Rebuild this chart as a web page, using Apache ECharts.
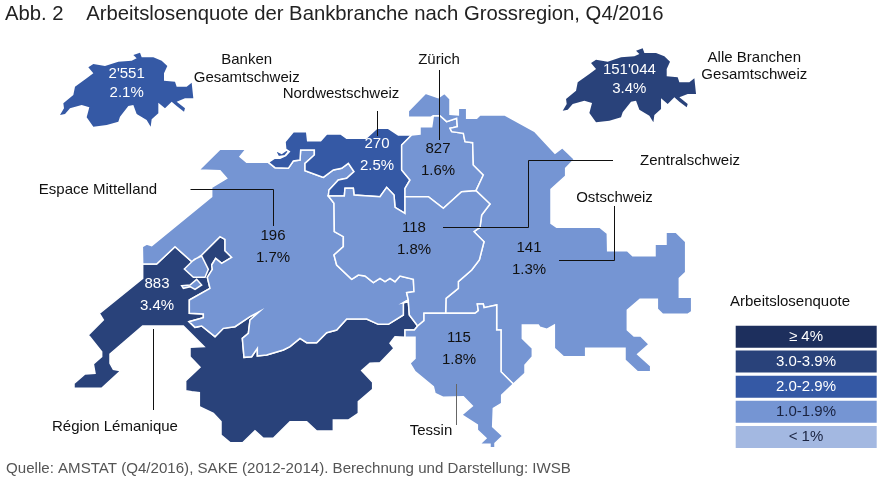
<!DOCTYPE html>
<html><head><meta charset="utf-8">
<style>html,body{margin:0;padding:0;background:#fff}#c{width:886px;height:484px}</style>
<script src="https://cdn.jsdelivr.net/npm/echarts@6/dist/echarts.min.js"></script>
</head><body><div id="c"></div>
<script>
// ---- data ----
const regionNames = ['Région Lémanique','Espace Mittelland','Nordwestschweiz','Zürich','Ostschweiz','Zentralschweiz','Tessin'];
const regionCounts = ['883','196','270','827','141','118','115'];
const regionRates = [3.4,1.7,2.5,1.6,1.3,1.8,1.8];
const totalNames = ['Banken Gesamtschweiz','Alle Branchen Gesamtschweiz'];
const totalCounts = ["2'551","151'044"];
const totalRates = [2.1,3.4];
const legendLabels = ['≥ 4%','3.0-3.9%','2.0-2.9%','1.0-1.9%','< 1%'];
const legendMins = [4,3,2,1,0];
const legendColors = ['#1d2f5d','#29427a','#3559a5','#7595d3','#a3b8e1'];

// ---- outline geometry of the map (traced, in picture units) ----
const tr=(ox,oy,a)=>a.map(p=>[ox+p[0]/3,oy+p[1]/3]);
const Z1=a=>tr(130,100,a),Z2=a=>tr(50,220,a),Z3=a=>tr(400,100,a),Z4=a=>tr(400,280,a),Z8=a=>tr(540,210,a),Z12=a=>tr(255,135,a);
const rev=a=>a.slice().reverse();
const LE_EM=Z2([[278,132],[320,132],[375,80],[425,125],[455,105],[510,50],[525,58],[525,92],[545,112],[515,130],[497,115],[485,135],[487,148],[472,172],[480,205],[418,240],[418,280],[460,282],[460,293],[417,305],[435,322],[455,318],[495,350],[520,325],[555,320],[600,290],[628,275],[600,300],[595,340],[577,355],[582,412],[605,410],[622,385],[622,408],[650,405],[700,390],[720,380],[750,355],[770,368],[800,368],[830,338],[860,330],[890,297],[950,297],[985,313],[1015,313],[1060,285],[1060,248]]);
const LE_ZS=Z2([[1060,248],[1075,245],[1078,285],[1103,318]]);
const LE_TI=Z4([[53,138],[43,150],[15,150],[15,172]]);
const LE_OUT=Z2([[1035,350],[1020,370],[1032,385],[990,428],[960,430],[935,452],[968,487],[968,508],[925,545],[925,580],[895,600],[850,600],[850,633],[800,633],[770,605],[720,605],[670,655],[640,655],[615,632],[578,668],[540,668],[513,645],[513,605],[490,580],[448,560],[448,518],[425,515],[407,512],[407,482],[450,442],[420,410],[420,382],[462,380],[400,318],[278,318],[180,402],[180,430],[190,448],[213,452],[155,505],[72,505],[72,490],[105,462],[135,460],[130,432],[155,410],[155,395],[115,345],[160,300],[148,280],[278,175]]);
const EM_OUT=Z1([[37,440],[50,432],[65,437],[245,290],[245,262],[290,235],[270,212],[207,210],[270,148],[348,148],[330,170],[350,187]]);
const NW_EM=Z1([[595,288],[597,270],[625,240],[650,235],[672,215],[655,190],[635,205],[610,210],[580,232],[560,225],[525,212],[525,190],[553,165],[553,150],[512,150],[510,180],[490,183],[475,205],[435,203],[415,187]]);
const EM_ZS=Z1([[595,288],[612,310],[613,395],[640,410],[640,440],[612,465],[620,495]]).concat(Z2([[905,178],[925,165],[945,168],[970,188],[990,175],[1005,185],[1020,175],[1035,185],[1050,168],[1090,178],[1092,215],[1070,218],[1075,240],[1060,248]]));
const NW_TOP=Z1([[465,125],[490,95],[530,95],[533,122],[572,122],[590,102],[632,102],[650,115],[708,115],[740,85],[775,85],[805,105],[845,105]]);
const NW_ZH=Z1([[845,105],[815,135],[815,210],[840,240],[825,265],[825,290]]);
const NW_ZS=Z1([[825,290],[825,340],[795,322],[792,285],[770,262],[750,290],[672,285],[670,265],[645,265],[643,288],[595,288]]);
const NW_END=Z12([[42,80],[58,70],[75,70],[92,62],[103,50],[92,42]]);
const ZH_TOP=Z3([[35,105],[60,102],[60,80],[95,80],[100,47]]);
const ZH_OS=Z3([[100,47],[120,47],[140,65],[170,55],[172,80],[150,85],[155,95],[190,100],[195,125],[218,128],[220,195],[250,225],[228,272]]);
const ZH_ZS=Z3([[228,272],[185,275],[130,325],[85,290],[15,290]]);
const ZS_OS=Z3([[228,272],[270,312],[245,345],[240,382],[222,395],[252,425],[238,480],[215,510],[175,545],[175,565],[138,595]]).concat(Z4([[137,100]]));
const ZS_TI=Z4([[137,100],[72,100],[72,122],[53,138]]);
const TI_OS=Z4([[137,100],[225,100],[235,92],[232,72],[250,72],[252,83],[290,75],[290,150],[303,150],[303,275],[340,312]]);
const TI_OUT=Z4([[340,312],[305,345],[305,370],[280,385],[278,440],[308,468],[285,490],[285,503],[270,503],[270,493],[240,492],[258,475],[232,450],[232,435],[185,405],[217,378],[190,350],[130,352],[105,340],[100,320],[45,275],[30,250],[45,235],[45,172],[15,172],[15,150],[43,150],[53,138]]);
const OS_OUT=Z3([[100,47],[92,52],[25,52],[25,33],[77,-20],[115,-7],[133,-20],[150,-3],[150,43],[175,45],[175,25],[200,25],[200,55],[230,55],[240,45],[315,45],[405,95],[465,160],[487,143],[523,178],[497,205],[497,228],[453,268],[453,370],[470,382],[600,382],[622,400]])
 .concat(Z8([[203,122],[262,122],[278,137],[345,137],[345,103],[378,103],[378,67],[408,67],[437,95],[437,187],[418,205],[418,262],[455,262],[455,305],[443,313],[368,313],[352,297],[352,268],[300,268],[262,300],[262,360],[282,378],[302,378],[327,403],[293,433],[332,468],[332,485],[292,485],[255,450],[255,415],[137,415],[137,440],[70,440],[43,415],[43,345],[20,358],[0,352]]))
 .concat(Z4([[415,135],[367,135],[367,175],[397,205],[397,230],[375,255],[375,280],[340,312]]));
const ENCL_A=Z2([[403,147],[433,118],[455,108],[475,148],[465,172],[430,172]]);
const ENCL_B=Z2([[395,197],[420,195],[440,178],[455,195],[435,208],[420,200],[400,205]]);
const ENCL_C=Z12([[48,78],[60,68],[72,72],[60,80]]);
const NW_EX=Z12([[60,45],[80,55],[95,45],[100,50],[90,62],[70,65]]);
const SWISS=tr(30,30,[[310,75],[330,68],[335,82],[370,82],[395,92],[412,108],[402,130],[402,152],[435,155],[440,170],[470,170],[485,158],[490,205],[465,205],[440,215],[465,235],[462,245],[440,228],[425,215],[405,235],[385,218],[385,250],[365,268],[362,290],[350,270],[320,252],[310,225],[295,228],[270,260],[265,275],[230,285],[190,290],[170,262],[178,232],[155,225],[120,235],[105,252],[90,255],[102,235],[100,220],[130,195],[135,170],[170,145],[190,130],[175,112],[190,102],[225,108],[265,95],[305,92],[320,85]]);

const ring=(...cs)=>{const r=[].concat(...cs);r.push(r[0]);return r;};
const close=a=>a.concat([a[0]]);
const regionShapes=[
 [ring(LE_EM,LE_ZS,LE_TI,LE_OUT)],
 [ring(LE_EM.slice(0,1),EM_OUT,rev(NW_EM),EM_ZS,rev(LE_EM)),close(ENCL_A),close(ENCL_B),close(ENCL_C)],
 [ring(NW_TOP,NW_ZH,NW_ZS,NW_EM,NW_END),close(NW_EX)],
 [ring(ZH_TOP,ZH_OS,ZH_ZS,rev(NW_ZH))],
 [ring(OS_OUT,rev(TI_OS),rev(ZS_OS),rev(ZH_OS))],
 [ring(NW_ZS,EM_ZS,LE_ZS,rev(ZS_TI),rev(ZS_OS),ZH_ZS)],
 [ring(TI_OS,TI_OUT,rev(ZS_TI))]
];
const labelSpots=[[157,295],[273,247],[377,155],[438,160],[529,259],[414,239],[459,349]];
const bbox=pts=>{let a=1e9,b=1e9,c=-1e9,d=-1e9;pts.forEach(p=>{a=Math.min(a,p[0]);b=Math.min(b,p[1]);c=Math.max(c,p[0]);d=Math.max(d,p[1]);});return {left:a,top:b,width:c-a,height:d-b};};
const mainBox=bbox([].concat(...regionShapes.map(s=>[].concat(...s))));
echarts.registerMap('regions',{type:'FeatureCollection',features:regionNames.map((n,i)=>({type:'Feature',properties:{name:n,cp:labelSpots[i]},geometry:{type:'MultiPolygon',coordinates:regionShapes[i].map(r=>[r])}}))});
const swissBox=bbox(SWISS);
const swissSpot=[swissBox.left+swissBox.width*0.5,swissBox.top+swissBox.height*0.42];
const swissGeo=()=>({type:'FeatureCollection',features:[{type:'Feature',properties:{name:'Gesamtschweiz',cp:swissSpot},geometry:{type:'Polygon',coordinates:[close(SWISS)]}}]});
echarts.registerMap('swissBanks',swissGeo());
echarts.registerMap('swissAll',swissGeo());

const FONT='"Liberation Sans",Arial,sans-serif';
const identity={project:p=>p,unproject:p=>p};
const bandOf=v=>legendMins.findIndex(m=>v>=m);
const itemOf=(name,count,rate)=>({name,value:rate,label:{formatter:count+'\n'+rate.toFixed(1)+'%',color:bandOf(rate)<=2?'#fff':'#111'}});
const mapBase={type:'map',silent:true,roam:false,projection:identity,selectedMode:false,
  label:{show:true,fontFamily:FONT,fontSize:15,lineHeight:22}};
const series=[
 Object.assign({},mapBase,{map:'regions',left:mainBox.left,top:mainBox.top,width:mainBox.width,height:mainBox.height,
   itemStyle:{borderColor:'#fff',borderWidth:1.5},
   data:regionNames.map((n,i)=>itemOf(n,regionCounts[i],regionRates[i]))}),
 Object.assign({},mapBase,{map:'swissBanks',left:swissBox.left,top:swissBox.top,width:swissBox.width,height:swissBox.height,
   itemStyle:{borderWidth:0},label:{show:true,fontFamily:FONT,fontSize:15,lineHeight:19},
   data:[itemOf('Gesamtschweiz',totalCounts[0],totalRates[0])]}),
 Object.assign({},mapBase,{map:'swissAll',left:562.7,top:48.3,width:swissBox.width,height:swissBox.height,
   itemStyle:{borderWidth:0},label:{show:true,fontFamily:FONT,fontSize:15,lineHeight:19},
   data:[itemOf('Gesamtschweiz',totalCounts[1],totalRates[1])]})
];
const txt=(t,x,y,align)=>({type:'text',z:20,style:{text:t,x,y,align:align||'center',verticalAlign:'middle',font:'15px '+FONT,fill:'#111'}});
const line=(pts,c)=>({type:'polyline',z:15,shape:{points:pts},style:{stroke:c||'#111',lineWidth:1,fill:null}});
const graphics=[
 line([[190.5,189.5],[273.5,189.5],[273.5,226]]),
 line([[377.5,111],[377.5,136]]),
 line([[439.5,70],[439.5,140]]),
 line([[613,160.5],[528.5,160.5],[528.5,227.5],[443,227.5]]),
 line([[614.5,206],[614.5,260.5],[559,260.5]]),
 line([[153.5,329],[153.5,410]]),
 line([[456.5,384],[456.5,425]],'#666'),
 txt('Zürich',439,60),txt('Nordwestschweiz',341,94),txt('Banken',246.7,60),txt('Gesamtschweiz',246.7,77.7),
 txt('Alle Branchen',754.3,58.3),txt('Gesamtschweiz',754.3,75),txt('Espace Mittelland',98,190),
 txt('Zentralschweiz',690,161),txt('Ostschweiz',614.5,198),txt('Région Lémanique',115,426.7),
 txt('Tessin',431,430.7),txt('Arbeitslosenquote',790,301.7)
];
const legendTops=[325.7,350.5,375.7,400.7,426];
legendLabels.forEach((l,i)=>{
  graphics.push({type:'rect',z:10,shape:{x:735.7,y:legendTops[i],width:141,height:22},style:{fill:legendColors[i]}});
  graphics.push({type:'text',z:11,style:{text:l,x:806,y:legendTops[i]+11,align:'center',verticalAlign:'middle',font:'15px '+FONT,fill:i<3?'#fff':'#1a2340'}});
});
const chart=echarts.init(document.getElementById('c'),null,{renderer:'canvas'});
chart.setOption({
 backgroundColor:'#fff',animation:false,
 title:[
  {text:'Abb. 2    Arbeitslosenquote der Bankbranche nach Grossregion, Q4/2016',left:5,top:4,padding:0,textStyle:{fontFamily:FONT,fontSize:20.3,fontWeight:'normal',color:'#222'}},
  {text:'Quelle: AMSTAT (Q4/2016), SAKE (2012-2014). Berechnung und Darstellung: IWSB',left:6,top:461,padding:0,textStyle:{fontFamily:FONT,fontSize:15.1,fontWeight:'normal',color:'#555'}}
 ],
 visualMap:{show:false,type:'piecewise',seriesIndex:[0,1,2],
  pieces:legendMins.map((m,i)=>({min:m,max:i?legendMins[i-1]-0.001:100,color:legendColors[i]}))},
 series,graphic:graphics
});
</script></body></html>
